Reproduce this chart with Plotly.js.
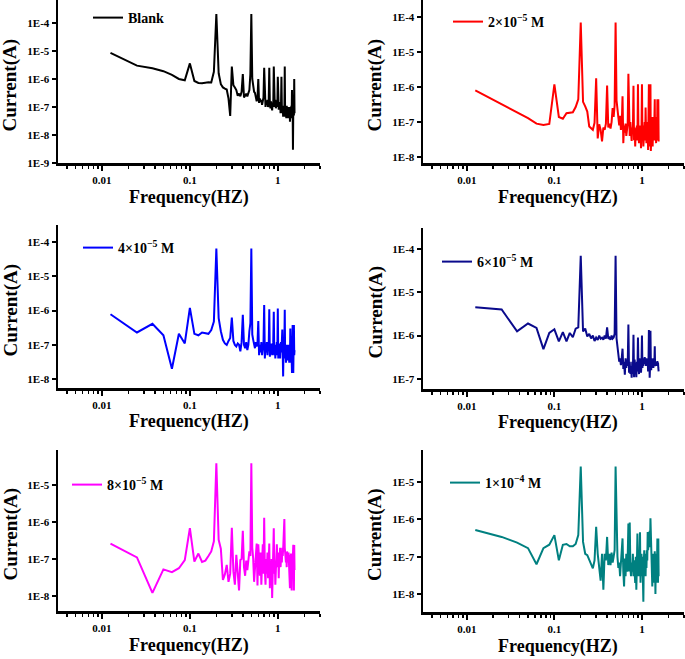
<!DOCTYPE html>
<html>
<head>
<meta charset="utf-8">
<script src="https://cdn.plot.ly/plotly-3.0.1.min.js"></script>
<style>html,body{margin:0;padding:0;background:#fff}#chart{width:685px;height:659px}</style>
</head>
<body>
<div id="chart"></div>
<script>
// Frequency (Hz)
const freq = [0.0125,0.025,0.0375,0.05,0.0625,0.075,0.0875,0.1,
0.1125,0.125,0.1375,0.15,0.1625,0.175,0.1875,0.2,
0.2125,0.225,0.2375,0.25,0.2625,0.275,0.2875,0.3,
0.3125,0.325,0.3375,0.35,0.3625,0.375,0.3875,0.4,
0.4125,0.425,0.4375,0.45,0.4625,0.475,0.4875,0.5,
0.5125,0.525,0.5375,0.55,0.5625,0.575,0.5875,0.6,
0.6125,0.625,0.6375,0.65,0.6625,0.675,0.6875,0.7,
0.7125,0.725,0.7375,0.75,0.7625,0.775,0.7875,0.8,
0.8125,0.825,0.8375,0.85,0.8625,0.875,0.8875,0.9,
0.9125,0.925,0.9375,0.95,0.9625,0.975,0.9875,1.0,
1.0125,1.025,1.0375,1.05,1.0625,1.075,1.0875,1.1,
1.1125,1.125,1.1375,1.15,1.1625,1.175,1.1875,1.2,
1.2125,1.225,1.2375,1.25,1.2625,1.275,1.2875,1.3,
1.3125,1.325,1.3375,1.35,1.3625,1.375,1.3875,1.4,
1.4125,1.425,1.4375,1.45,1.4625,1.475,1.4875,1.5,
1.5125,1.525,1.5375,1.55];

// Current (A) for each sample
const blank = [8.5e-6,3.0e-6,2.4e-6,1.9e-6,1.4e-6,1.0e-6,9.0e-7,3.6e-6,8.5e-7,7.2e-7,
7.0e-7,7.5e-7,7.6e-7,7.5e-7,1.8e-6,2.1e-4,1.6e-6,6.5e-7,5.0e-7,4.5e-7,
4.2e-7,2.0e-7,4.8e-8,2.8e-6,6.0e-7,5.0e-7,4.0e-7,2.5e-7,3.0e-7,2.4e-7,
3.5e-7,1.5e-6,2.2e-7,2.5e-7,3.0e-7,2.4e-7,3.5e-7,4.0e-7,1.5e-6,2.1e-4,
1.0e-6,5.0e-7,3.5e-7,3.2e-7,2.5e-7,1.6e-7,2.0e-7,1.0e-6,1.4e-7,2.0e-7,
1.5e-7,1.8e-7,1.2e-7,1.6e-7,2.2e-7,2.5e-6,1.5e-7,1.0e-7,1.6e-7,1.2e-7,
1.8e-7,1.0e-7,1.4e-7,2.5e-6,1.3e-7,9.0e-8,1.6e-7,1.1e-7,7.5e-8,1.4e-7,
1.0e-7,2.8e-6,1.5e-7,1.0e-7,1.8e-7,9.0e-8,1.2e-7,1.6e-7,1.0e-7,1.2e-6,
1.4e-7,8.0e-8,1.3e-7,1.0e-7,1.5e-7,6.0e-8,1.2e-7,1.2e-6,9.0e-8,6.0e-8,
1.0e-7,4.5e-8,1.1e-7,8.0e-8,5.0e-8,2.8e-6,4.5e-8,1.0e-7,6.0e-8,4.0e-8,
1.1e-7,5.0e-8,9.0e-8,4.0e-8,1.0e-7,5.0e-8,8.0e-8,4.0e-8,1.0e-7,3.0e-8,
6.0e-8,1.0e-7,4.0e-8,1.1e-7,5.0e-8,4.0e-7,6.0e-8,1.0e-7,3.0e-9,8.0e-8,
1.2e-7,5.0e-8,1.0e-6,6.0e-8];

const c2e5 = [8.1e-7,3.3e-7,1.9e-7,1.3e-7,9.0e-8,8.2e-8,8.8e-8,1.2e-6,1.4e-7,1.25e-7,
1.8e-7,1.85e-7,1.9e-7,2.7e-7,4.5e-7,7.0e-5,3.8e-7,2.8e-7,2.0e-7,7.5e-8,
6.5e-8,6.0e-8,9.5e-8,1.8e-6,3.4e-8,8.6e-8,6.0e-8,2.8e-8,7.0e-8,6.0e-8,
9.0e-8,1.1e-6,7.0e-8,9.0e-8,6.5e-8,1.0e-7,2.5e-7,1.4e-7,3.0e-7,7.0e-5,
4.2e-7,2.5e-7,1.2e-7,8.0e-8,1.5e-7,6.0e-8,8.0e-8,5.5e-7,2.5e-8,8.0e-8,
5.0e-8,9.0e-8,4.0e-8,6.0e-8,9.0e-8,2.4e-6,8.0e-8,4.0e-8,1.0e-7,6.0e-8,
2.9e-8,7.0e-8,5.0e-8,1.1e-6,3.0e-8,7.0e-8,2.0e-8,6.0e-8,4.0e-8,8.0e-8,
3.0e-8,1.2e-6,5.0e-8,2.5e-8,8.0e-8,3.5e-8,6.0e-8,1.8e-8,5.0e-8,1.2e-6,
4.0e-8,8.0e-8,2.0e-8,6.0e-8,4.0e-8,1.0e-7,3.0e-8,2.6e-7,6.0e-8,2.5e-8,
8.0e-8,4.0e-8,1.0e-7,1.6e-8,6.0e-8,1.2e-6,6.0e-8,2.0e-8,9.0e-8,1.2e-6,
1.5e-8,6.0e-8,2.5e-8,1.4e-7,5.0e-8,2.0e-8,8.0e-8,3.0e-8,1.4e-7,6.0e-8,
1.4e-7,4.5e-7,3.0e-8,8.0e-8,1.4e-7,2.5e-8,6.0e-8,1.4e-7,4.0e-8,4.5e-7,
3.0e-8,1.0e-7,4.5e-7,2.8e-8];

const c4e5 = [7.8e-7,2.3e-7,4.1e-7,1.9e-7,2.0e-8,2.1e-7,1.1e-7,1.2e-6,2.1e-7,1.9e-7,
2.3e-7,2.2e-7,2.1e-7,2.7e-7,4.8e-7,6.5e-5,6.0e-7,2.5e-7,1.4e-7,1.1e-7,
1.0e-7,1.3e-7,1.6e-7,6.3e-7,1.3e-7,1.0e-7,9.0e-8,1.1e-7,1.0e-7,6.5e-8,
1.2e-7,7.5e-7,1.0e-7,8.0e-8,1.2e-7,7.0e-8,1.0e-7,2.5e-7,4.3e-7,6.5e-5,
2.0e-7,1.4e-7,1.0e-7,8.0e-8,1.2e-7,9.0e-8,1.1e-7,5.0e-7,5.0e-8,1.0e-7,
6.0e-8,1.2e-7,5.0e-8,8.0e-8,1.1e-7,1.45e-6,4.0e-8,1.0e-7,6.0e-8,1.2e-7,
5.0e-8,9.0e-8,7.0e-8,1.1e-6,4.5e-8,1.0e-7,6.0e-8,1.1e-7,5.0e-8,8.0e-8,
1.2e-7,9.3e-7,5.0e-8,1.0e-7,4.0e-8,1.0e-7,6.0e-8,1.2e-7,5.0e-8,1.15e-6,
4.0e-8,9.0e-8,6.0e-8,1.1e-7,4.0e-8,8.0e-8,1.2e-7,6.0e-8,1.0e-7,2.8e-7,
6.0e-8,1.2e-8,8.0e-8,4.0e-8,1.0e-7,1.05e-6,4.0e-8,1.0e-7,3.0e-8,8.0e-8,
4.0e-8,1.0e-7,3.5e-8,8.0e-8,4.0e-8,1.0e-7,5.0e-8,3.0e-8,8.0e-8,4.0e-8,
3.0e-7,6.0e-8,3.0e-8,1.0e-7,4.0e-8,1.5e-8,8.0e-8,3.8e-7,5.0e-8,1.5e-8,
1.0e-7,3.8e-7,5.0e-8,7.0e-8];

const c6e5 = [4.5e-6,4.0e-6,1.25e-6,1.9e-6,1.5e-6,4.9e-7,1.15e-6,1.4e-6,7.4e-7,1.2e-6,
7.4e-7,1.15e-6,9.2e-7,1.45e-6,1.55e-6,6.9e-5,1.25e-6,1.45e-6,9.6e-7,1.1e-6,
8.6e-7,1.0e-6,7.5e-7,9.0e-7,8.0e-7,1.0e-6,8.5e-7,9.0e-7,8.0e-7,1.0e-6,
8.5e-7,1.55e-6,8.5e-7,9.0e-7,8.0e-7,1.0e-6,8.5e-7,9.0e-7,1.1e-6,6.9e-5,
8.6e-7,6.0e-7,4.4e-7,2.5e-7,3.0e-7,2.1e-7,3.0e-7,5.0e-7,1.7e-7,2.5e-7,
1.25e-7,3.0e-7,1.8e-7,2.8e-7,2.0e-7,1.8e-6,1.4e-7,2.5e-7,1.3e-7,2.0e-7,
1.07e-7,2.5e-7,1.3e-7,1.05e-6,1.1e-7,2.8e-7,1.5e-7,2.2e-7,1.1e-7,2.5e-7,
1.5e-7,9.0e-7,2.0e-7,1.3e-7,3.0e-7,1.8e-7,2.5e-7,1.4e-7,2.2e-7,1.0e-6,
1.8e-7,2.8e-7,2.0e-7,3.0e-7,2.2e-7,3.2e-7,2.5e-7,2.8e-7,2.0e-7,3.0e-7,
2.4e-7,2.0e-7,2.8e-7,1.5e-7,2.5e-7,1.35e-6,1.5e-7,1.07e-7,2.0e-7,1.3e-6,
2.5e-7,1.6e-7,3.0e-7,2.2e-7,2.8e-7,2.0e-7,2.5e-7,1.8e-7,3.0e-7,2.2e-7,
2.6e-7,5.7e-7,2.0e-7,2.8e-7,2.2e-7,2.5e-7,2.0e-7,2.4e-7,2.2e-7,2.6e-7,
2.0e-7,2.4e-7,1.8e-7,1.5e-7];

const c8e5 = [2.6e-7,1.1e-7,1.2e-8,5.2e-8,4.4e-8,5.6e-8,9.3e-8,6.8e-7,8.5e-8,1.4e-7,
8.3e-8,9.0e-8,1.2e-7,1.6e-7,3.0e-7,3.9e-5,3.3e-7,1.9e-7,2.7e-8,3.8e-8,
6.9e-8,2.4e-8,4.0e-8,7.0e-7,4.6e-8,2.0e-8,1.3e-7,5.0e-8,1.4e-8,9.4e-8,
1.0e-7,5.8e-7,6.0e-8,3.5e-8,9.0e-8,5.0e-8,1.1e-7,1.6e-7,1.2e-7,3.9e-5,
2.0e-7,1.0e-7,2.4e-8,8.0e-8,1.2e-7,2.6e-7,1.9e-8,2.5e-7,6.0e-8,3.5e-8,
1.5e-7,2.0e-8,8.0e-8,2.5e-7,4.0e-8,1.3e-6,5.0e-8,2.0e-8,1.0e-7,4.0e-8,
1.5e-7,3.0e-8,8.0e-8,2.6e-7,1.6e-8,8.0e-8,3.0e-8,1.0e-7,8.7e-9,6.0e-8,
1.2e-7,6.8e-7,4.0e-8,9.0e-8,2.0e-8,1.0e-7,5.0e-8,2.5e-7,1.0e-7,6.0e-8,
1.5e-7,3.0e-8,1.2e-7,8.0e-8,2.0e-7,6.0e-8,1.0e-7,1.5e-7,8.0e-8,2.0e-7,
1.2e-7,1.8e-7,3.0e-7,1.1e-6,1.2e-6,2.0e-7,1.0e-7,1.4e-7,8.0e-8,1.2e-7,
6.0e-8,1.6e-7,1.0e-7,1.3e-7,8.0e-8,1.5e-7,6.0e-8,1.2e-7,4.0e-8,1.6e-8,
1.3e-7,5.0e-8,1.4e-7,8.0e-8,1.4e-8,1.2e-7,4.0e-8,1.3e-7,6.0e-8,2.4e-7,
1.0e-7,1.4e-8,2.4e-7,5.0e-8];

const c1e4 = [5.2e-7,3.4e-7,2.4e-7,1.7e-7,6.3e-8,1.7e-7,2.1e-7,3.8e-7,8.0e-8,2.1e-7,
2.2e-7,1.9e-7,1.9e-7,2.2e-7,3.8e-7,2.6e-5,2.5e-7,1.2e-7,1.1e-7,8.0e-8,
6.0e-8,4.9e-8,8.0e-8,6.3e-7,1.2e-7,6.0e-8,2.3e-8,1.2e-7,1.3e-8,1.2e-7,
8.0e-8,3.4e-7,6.0e-8,1.2e-7,6.0e-8,1.3e-7,7.0e-8,1.0e-7,1.5e-7,2.6e-5,
3.0e-7,1.0e-7,5.0e-8,7.0e-8,3.0e-8,8.0e-8,1.2e-7,3.1e-7,4.0e-8,1.6e-8,
9.0e-8,3.0e-8,1.2e-7,4.0e-8,1.0e-7,7.8e-7,4.0e-8,8.3e-7,5.0e-8,3.0e-8,
7.0e-8,4.0e-8,1.2e-7,3.0e-8,8.0e-8,5.0e-8,2.0e-8,1.0e-7,1.3e-8,6.0e-8,
4.2e-7,8.0e-8,3.0e-8,1.5e-7,4.0e-8,4.5e-7,2.0e-8,8.0e-8,1.2e-7,3.0e-8,
1.0e-7,1.5e-8,6.2e-9,8.0e-8,1.5e-7,4.0e-8,9.0e-8,3.0e-8,1.2e-7,5.0e-8,
1.5e-7,8.0e-8,4.6e-7,1.5e-7,2.0e-7,4.0e-7,1.8e-7,5.0e-7,2.5e-7,1.07e-6,
4.0e-7,6.0e-7,2.0e-7,1.0e-7,1.6e-8,6.0e-8,1.2e-7,4.0e-8,1.0e-7,2.0e-8,
8.0e-8,1.4e-7,5.0e-8,1.0e-8,6.0e-8,1.2e-7,4.0e-8,2.0e-8,8.0e-8,3.1e-7,
1.0e-7,2.0e-8,3.1e-7,3.0e-8];

const seriesNames = ['Blank','2×10<sup>−5</sup> M','4×10<sup>−5</sup> M','6×10<sup>−5</sup> M','8×10<sup>−5</sup> M','1×10<sup>−4</sup> M'];
const seriesData = [blank, c2e5, c4e5, c6e5, c8e5, c1e4];
const seriesColors = ['#000000','#ff0000','#0000ff','#0a0a8c','#ff00ff','#008080'];

const yTickVals = [1e-9,1e-8,1e-7,1e-6,1e-5,1e-4];
const yTickText = ['1E-9','1E-8','1E-7','1E-6','1E-5','1E-4'];
const xTitle = 'Frequency(HZ)';
const yTitle = 'Current(A)';

// ---- layout geometry (pixels) ----
const W = 685, H = 659;
const panels = [
  {x0:58,  x1:320, top:0,   bot:163, yr:[-9.0,-3.18], leg:[88,18]},
  {x0:423, x1:684, top:0,   bot:163, yr:[-8.17,-3.51], leg:[448,22]},
  {x0:58,  x1:320, top:225, bot:388, yr:[-8.26,-3.5], leg:[78,248]},
  {x0:423, x1:684, top:228, bot:389, yr:[-7.23,-3.52], leg:[437,262]},
  {x0:58,  x1:320, top:450, bot:611, yr:[-8.41,-4.05], leg:[67,485]},
  {x0:423, x1:684, top:450, bot:612, yr:[-8.48,-4.14], leg:[445,483]}
];
const serif = 'Liberation Serif, Times New Roman, serif';

const traces = [];
const layout = {
  width: W, height: H,
  margin: {l:0, r:0, t:0, b:0},
  paper_bgcolor: '#ffffff', plot_bgcolor: 'rgba(0,0,0,0)',
  showlegend: true,
  annotations: []
};

panels.forEach((p, i) => {
  const n = i + 1;
  const xa = 'xaxis' + (n === 1 ? '' : n), ya = 'yaxis' + (n === 1 ? '' : n);
  const legName = 'legend' + (n === 1 ? '' : n);
  traces.push({
    x: freq, y: seriesData[i], type: 'scatter', mode: 'lines',
    name: seriesNames[i], line: {color: seriesColors[i], width: 2},
    xaxis: 'x' + (n === 1 ? '' : n), yaxis: 'y' + (n === 1 ? '' : n),
    legend: legName, hoverinfo: 'skip'
  });
  layout[xa] = {
    type: 'log', domain: [p.x0 / W, p.x1 / W], range: [-2.5, 0.48],
    anchor: 'y' + (n === 1 ? '' : n),
    showline: true, linecolor: '#000', linewidth: 2.5, mirror: false,
    showgrid: false, zeroline: false,
    ticks: 'outside', ticklen: 5, tickwidth: 2, tickcolor: '#000',
    dtick: 1, tick0: 0,
    minor: {ticks: 'outside', ticklen: 3, tickwidth: 1.5, tickcolor: '#000', dtick: 'D1', showgrid: false},
    tickfont: {family: serif, size: 11, color: '#000', weight: 'bold'},
    automargin: false
  };
  layout[ya] = {
    type: 'log', domain: [1 - p.bot / H, 1 - p.top / H], range: p.yr,
    anchor: 'x' + (n === 1 ? '' : n),
    showline: true, linecolor: '#000', linewidth: 2.5, mirror: false,
    showgrid: false, zeroline: false,
    ticks: 'outside', ticklen: 4, tickwidth: 2, tickcolor: '#000',
    tickmode: 'array', tickvals: yTickVals, ticktext: yTickText,
    tickfont: {family: serif, size: 11, color: '#000', weight: 'bold'},
    automargin: false
  };
  layout[legName] = {
    x: p.leg[0] / W, y: 1 - p.leg[1] / H, xanchor: 'left', yanchor: 'middle',
    bgcolor: 'rgba(0,0,0,0)', borderwidth: 0,
    font: {family: serif, size: 14, color: '#000', weight: 'bold'}
  };
  // axis titles
  layout.annotations.push({
    text: '<b>' + xTitle + '</b>', xref: 'paper', yref: 'paper',
    x: ((p.x0 + p.x1) / 2 + (i % 2 ? 4 : 0)) / W, y: 1 - (p.bot + 34) / H,
    xanchor: 'center', yanchor: 'middle', showarrow: false,
    font: {family: serif, size: 18, color: '#000'}
  });
  layout.annotations.push({
    text: '<b>' + yTitle + '</b>', xref: 'paper', yref: 'paper',
    x: (p.x0 - 48) / W, y: 1 - ((p.top + p.bot) / 2 + 4) / H,
    xanchor: 'center', yanchor: 'middle', textangle: -90, showarrow: false,
    font: {family: serif, size: 19, color: '#000'}
  });
});

Plotly.newPlot('chart', traces, layout, {staticPlot: true, displayModeBar: false});
</script>
</body>
</html>
